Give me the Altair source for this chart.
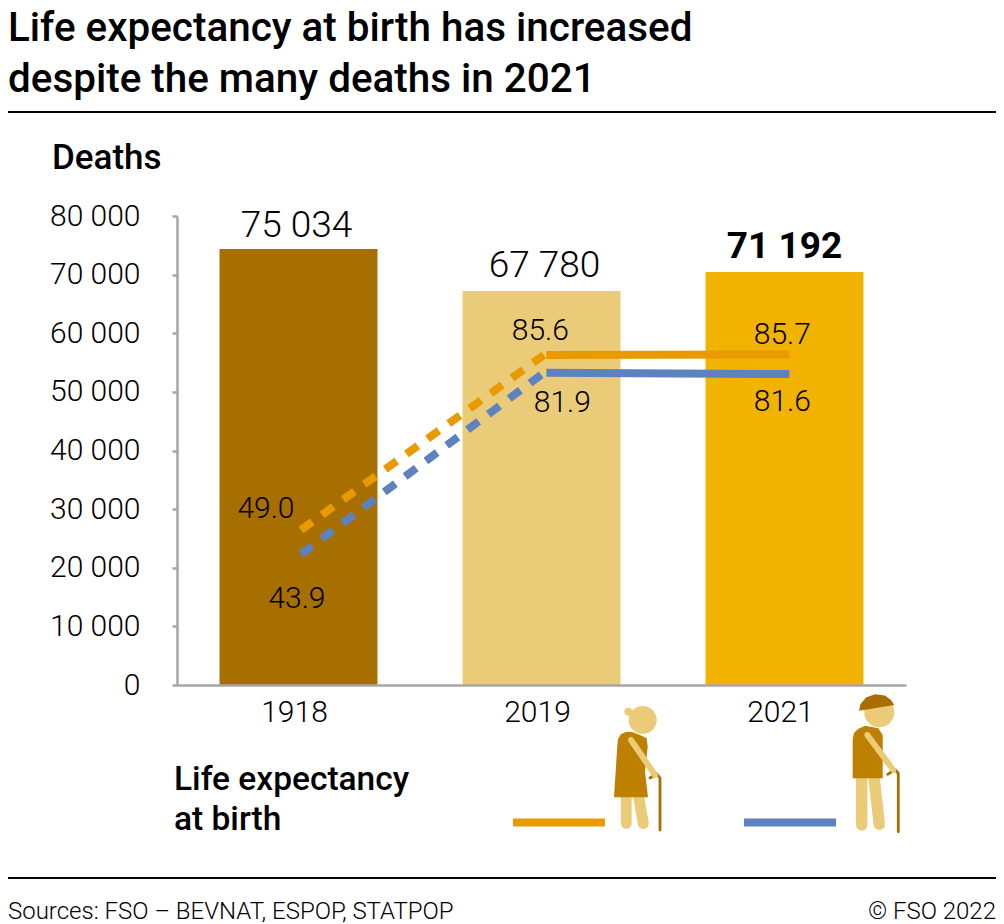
import math
import altair as alt
import pandas as pd

# ---------- values ----------
years = ["1918", "2019", "2021"]
drawn_deaths = [74370, 67200, 70450]
death_labels = ["75 034", "67 780", "71 192"]
women_slots = [0.01, 1.01]
women_dashed = [49.0, 85.6]
men_dashed = [43.9, 81.9]
women_solid_slots = [1.02, 2.02]
women_solid = [85.6, 85.7]
men_solid = [81.9, 81.6]
title_lines = ["Life expectancy at birth has increased", "despite the many deaths in 2021"]

# ---------- layout and styles ----------
FONT = "Roboto"
LEFT, TOP, W, H = 177, 216, 729, 469
def px(v): return v - LEFT
def py(v): return v - TOP

BAR_COLORS = ["#A66F00", "#EACB78", "#F2B200"]
ORANGE, BLUE = "#E99A00", "#5E82BF"
GREY = "#A6A6A6"
LIGHT, DRESS, DARK = "#EBCB78", "#BD8000", "#AA6E00"

x_band = alt.Scale(domain=years, paddingInner=0.35, paddingOuter=0.175)
y_deaths = alt.Scale(domain=[0, 80000], nice=False)
x_slot = alt.Scale(domain=[-0.5, 2.5], nice=False, zero=False)
y_life = alt.Scale(domain=[16.56, 114.68], nice=False, zero=False)

bars_df = pd.DataFrame({"year": years, "deaths": drawn_deaths, "label": death_labels, "color": BAR_COLORS})

bars = alt.Chart(bars_df).mark_bar().encode(
    x=alt.X("year:N", scale=x_band, sort=None, title=None, axis=alt.Axis(
        labelAngle=0, labelFont=FONT, labelFontSize=30, labelFontWeight=300, labelColor="#000",
        labelOffset=-4, labelPadding=12, ticks=False, domainColor=GREY, domainWidth=2.5, zindex=1)),
    y=alt.Y("deaths:Q", scale=y_deaths, title=None, axis=alt.Axis(
        values=[0, 10000, 20000, 30000, 40000, 50000, 60000, 70000, 80000],
        labelExpr="replace(format(datum.value, ','), ',', ' ')",
        labelFont=FONT, labelFontSize=30, labelFontWeight=300, labelColor="#000",
        labelPadding=32, tickSize=5, tickColor=GREY, tickWidth=2.5,
        domainColor=GREY, domainWidth=2.5, grid=False, zindex=1)),
    color=alt.Color("color:N", scale=None),
)

layers = [bars]

# bar value labels
for i, (dx, dy, wt) in enumerate([(-2, -4, 300), (3, -6, 300), (0, -6, 700)]):
    layers.append(
        alt.Chart(bars_df.iloc[[i]]).mark_text(
            font=FONT, fontSize=37, fontWeight=wt, color="#000", baseline="bottom", dx=dx, dy=dy
        ).encode(
            x=alt.X("year:N", scale=x_band, sort=None, axis=None),
            y=alt.Y("deaths:Q", scale=y_deaths, axis=None),
            text="label:N",
        )
    )

def line(slots, vals, color, dash=None):
    df = pd.DataFrame({"slot": slots, "v": vals})
    kw = {"strokeDash": dash} if dash else {}
    return alt.Chart(df).mark_line(color=color, strokeWidth=8, strokeCap="butt", **kw).encode(
        x=alt.X("slot:Q", scale=x_slot, axis=None),
        y=alt.Y("v:Q", scale=y_life, axis=None),
    )

layers += [
    line(women_slots, women_dashed, ORANGE, [14, 12]),
    line(women_slots, men_dashed, BLUE, [14, 12]),
    line(women_solid_slots, women_solid, ORANGE),
    line(women_solid_slots, men_solid, BLUE),
]

# life-expectancy labels
life_labels = [
    (women_slots[0], women_dashed[0], "49.0", -35, -21),
    (women_slots[0], men_dashed[0], "43.9", -4, 45),
    (women_solid_slots[0], women_solid[0], "85.6", -6, -24),
    (women_solid_slots[0], men_solid[0], "81.9", 16, 30),
    (women_solid_slots[1], women_solid[1], "85.7", -7, -20),
    (women_solid_slots[1], men_solid[1], "81.6", -7, 28),
]
for s, v, t, dx, dy in life_labels:
    layers.append(
        alt.Chart(pd.DataFrame({"slot": [s], "v": [v], "t": [t]})).mark_text(
            font=FONT, fontSize=30, fontWeight=300, color="#000", dx=dx, dy=dy, baseline="middle"
        ).encode(
            x=alt.X("slot:Q", scale=x_slot, axis=None),
            y=alt.Y("v:Q", scale=y_life, axis=None),
            text="t:N",
        )
    )

# static texts
def text(t, x, y, size, weight=300, align="left"):
    return alt.Chart(pd.DataFrame({"t": [t]})).mark_text(
        font=FONT, fontSize=size, fontWeight=weight, color="#000", align=align, baseline="alphabetic"
    ).encode(x=alt.value(px(x)), y=alt.value(py(y)), text="t:N")

layers += [
    text("Deaths", 52, 169, 35, 500),
    text("Life expectancy", 174, 790, 33.5, 500),
    text("at birth", 174, 829.5, 33.5, 500),
    text("Sources: FSO – BEVNAT, ESPOP, STATPOP", 8, 919, 24),
    text("© FSO 2022", 996, 919, 24, 300, "right"),
]

# rules and legend keys
def rule(x1, x2, y, color, width):
    return alt.Chart(pd.DataFrame({"a": [0]})).mark_rule(color=color, strokeWidth=width).encode(
        x=alt.value(px(x1)), x2=alt.value(px(x2)), y=alt.value(py(y))
    )

layers += [
    rule(8, 996, 112, "#000", 2),
    rule(8, 996, 878, "#000", 2),
    rule(513, 605, 822.5, ORANGE, 8),
    rule(744, 836, 822.5, BLUE, 8),
]

# ---------- pictograms, drawn as custom symbols ----------
def circle(cx, cy, r, n=40):
    return [(cx + r * math.cos(2 * math.pi * k / n), cy + r * math.sin(2 * math.pi * k / n)) for k in range(n)]

def capsule(x1, y1, x2, y2, w, n=8):
    a = math.atan2(y2 - y1, x2 - x1)
    r = w / 2
    pts = []
    for k in range(n + 1):
        t = a - math.pi / 2 + math.pi * k / n
        pts.append((x2 + r * math.cos(t), y2 + r * math.sin(t)))
    for k in range(n + 1):
        t = a + math.pi / 2 + math.pi * k / n
        pts.append((x1 + r * math.cos(t), y1 + r * math.sin(t)))
    return pts

def icon(polys, color, cx, cy, half=75):
    d = ""
    for poly in polys:
        d += "M" + "L".join(f"{(x - cx) / half:.4f},{(y - cy) / half:.4f}" for x, y in poly) + "Z"
    return alt.Chart(pd.DataFrame({"a": [0]})).mark_point(
        filled=True, fill=color, color=color, opacity=1, strokeWidth=0, shape=d, size=(2 * half) ** 2
    ).encode(x=alt.value(px(cx)), y=alt.value(py(cy)))

def cane(x, y_top, y_bot, hook_x1, hook_y1, hook_x2, hook_y2):
    return [capsule(x, y_bot, x, y_top, 2.8), capsule(x, y_top, hook_x1, hook_y1, 2.8), capsule(hook_x1, hook_y1, hook_x2, hook_y2, 2.8)]

# woman
wc = (640, 765)
layers += [
    icon([capsule(626.3, 795, 626.3, 823.5, 10.7), capsule(638.3, 795, 643.3, 823.5, 11)], LIGHT, *wc),
    icon(cane(660, 778, 830, 656.5, 773.5, 650, 778), DARK, *wc),
    icon([[(626.7, 731.7), (621, 734), (618, 739), (617.3, 746), (614, 797.3), (648, 797.3), (645, 771.7),
           (647.7, 746.7), (646.7, 738.3), (640, 735), (632, 732)]], DRESS, *wc),
    icon([circle(642.7, 720, 14), circle(628.3, 711.7, 4), capsule(631, 740, 655, 775, 6)], LIGHT, *wc),
]
# man
mc = (875, 765)
layers += [
    icon([capsule(861.7, 775, 861.7, 825, 11.5), capsule(873.7, 775, 879.3, 824.3, 11.5)], LIGHT, *mc),
    icon(cane(898.3, 773.5, 831.7, 895, 769.5, 887.7, 774.3), DARK, *mc),
    icon([[(865, 725.7), (858, 729), (854, 733), (852.7, 739), (852.7, 778.3), (882.7, 778.3), (882.7, 735),
           (878.3, 728.3), (872, 727)]], DRESS, *mc),
    icon([circle(879.3, 712.3, 15), capsule(867.3, 735, 893.3, 770, 6)], LIGHT, *mc),
    icon([[(859, 710.7), (860.5, 704), (866, 697.5), (875, 694.3), (885, 695.5), (891, 700), (894.3, 705)]], DARK, *mc),
]

chart = alt.layer(*layers).resolve_scale(x="independent", y="independent", color="independent").properties(
    width=W,
    height=H,
    padding={"left": 169, "top": 208, "right": 90, "bottom": 239},
    autosize=alt.AutoSizeParams(type="none"),
    title=alt.TitleParams(
        text=title_lines, anchor="start", frame="group", font=FONT, fontSize=40.4, fontWeight=500,
        color="#000", lineHeight=51, dx=-169, dy=92.5, offset=71, baseline="alphabetic",
    ),
).configure_view(stroke=None)

chart.save("out.html", embed_options={"renderer": "svg", "actions": False})
